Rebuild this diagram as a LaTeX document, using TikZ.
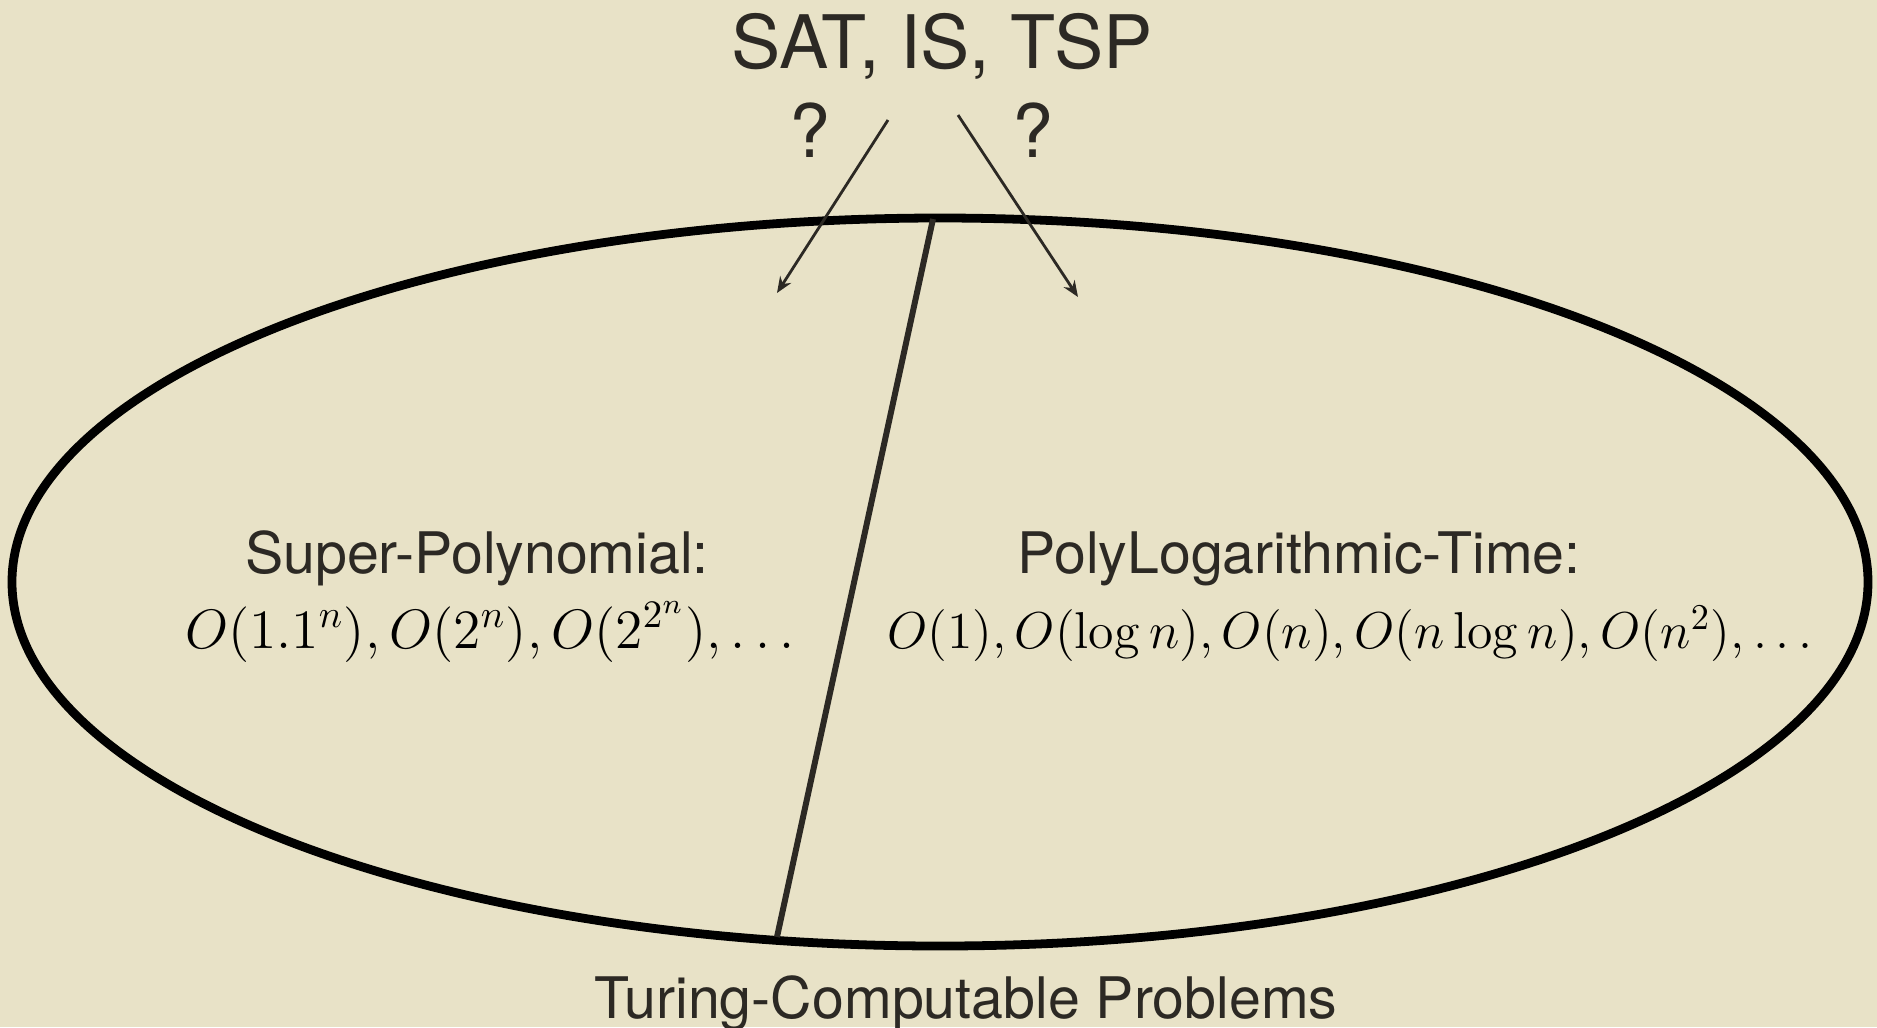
\documentclass[tikz,border=0pt]{standalone}
\usepackage{fix-cm}
\usepackage[no-math]{fontspec}
\setmainfont{TeX Gyre Heros}
\usepackage{amsmath}
\usetikzlibrary{arrows.meta}

\definecolor{paper}{RGB}{232,226,199}
\definecolor{ink}{RGB}{44,41,36}

\begin{document}
\begin{tikzpicture}[
    bigtext/.style={text=ink, font=\fontsize{21}{25}\selectfont, inner sep=0pt, anchor=base},
    classtext/.style={text=ink, font=\fontsize{16.3}{19}\selectfont, inner sep=0pt, anchor=base},
    mathtext/.style={text=black, font=\fontsize{14.75}{17}\selectfont, inner sep=0pt, anchor=base},
    guess/.style={draw=ink, line width=0.8pt, -{Stealth[length=1.6mm,width=1.3mm]}}
  ]
        % Background and margins
        \fill[paper] (-9.40,-4.45) rectangle (9.37,5.82);
        \useasboundingbox (-9.40,-4.45) rectangle (9.37,5.82);

        % Draw the set of computable problems
        \draw[black, line width=2.5pt] (0,0) ellipse (9.28 and 3.64);

        % Draw the dividing line
        \coordinate (divtop) at (-0.07,3.63);
        \coordinate (divbot) at (-1.63,-3.55);
        \draw[ink, line width=1.7pt] (divtop) -- (divbot);

        % Problems on top
        \node[bigtext] (probs) at (0.02,5.14) {SAT, IS, TSP};
        \node[bigtext] (qleft) at (-1.30,4.25) {?};
        \node[bigtext] (qright) at (0.93,4.25) {?};

        % Arrows into both halves
        \coordinate (lstart) at (-0.52,4.62);
        \coordinate (lend) at (-1.63,2.89);
        \coordinate (rstart) at (0.18,4.67);
        \coordinate (rend) at (1.38,2.85);
        \draw[guess] (lstart) -- (lend);
        \draw[guess] (rstart) -- (rend);

        % Left half
        \node[classtext] (super) at (-4.63,0.09) {Super-Polynomial:};
        \node[mathtext, font=\fontsize{15.8}{18}\selectfont] (superex) at (-4.50,-0.66) {$O(1.1^n), O(2^n), O(2^{2^n}), \ldots$};

        % Right half
        \node[classtext] (poly) at (3.59,0.09) {PolyLogarithmic-Time:};
        \node[mathtext] (polyex) at (4.10,-0.66) {$O(1), O(\log n), O(n), O(n\log n), O(n^2), \ldots$};

        % Label underneath
        \node[classtext] (turing) at (0.26,-4.36) {Turing-Computable Problems};
\end{tikzpicture}
\end{document}
